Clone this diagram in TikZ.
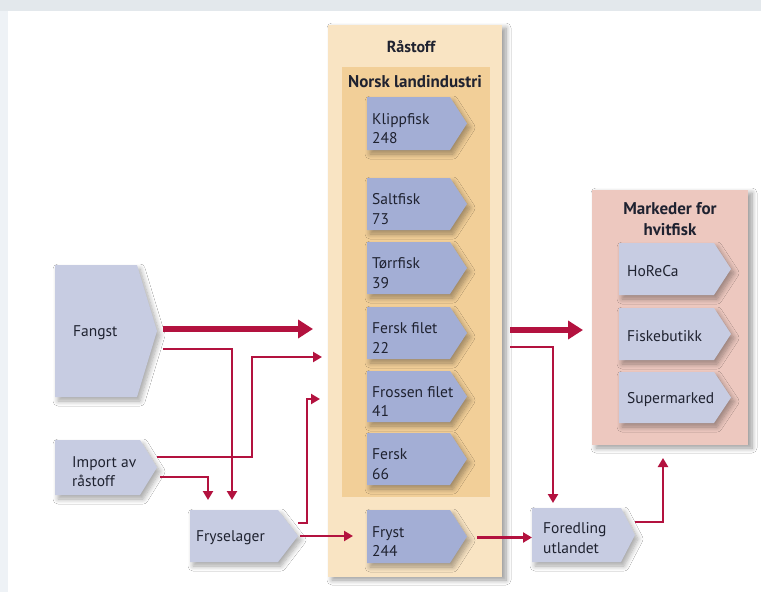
\documentclass[tikz,border=0pt]{standalone}
\usepackage{fontspec}
\setmainfont{PT Sans}
\usetikzlibrary{arrows.meta,calc,fit,shadows.blur}
\definecolor{frametop}{HTML}{E3E8EC}
\definecolor{frameleft}{HTML}{EEF2F6}
\definecolor{rawouter}{HTML}{F9E4C3}
\definecolor{rawinner}{HTML}{F2CF98}
\definecolor{darkbox}{HTML}{A3AED5}
\definecolor{lightbox}{HTML}{C7CCE2}
\definecolor{marketbg}{HTML}{EDC8BF}
\definecolor{flow}{HTML}{B3123F}
\definecolor{ink}{HTML}{1F2230}
\tikzset{
  boxshadow/.style={blur shadow={shadow xshift=3pt,shadow yshift=-4pt,shadow blur steps=8,shadow blur radius=5pt,shadow opacity=35}},
  panelshadow/.style={blur shadow={shadow xshift=4pt,shadow yshift=-3pt,shadow blur steps=8,shadow blur radius=5pt,shadow opacity=40}},
  boxtext/.style={text=ink,font=\fontsize{15.5}{19.5}\selectfont,align=left,inner sep=0pt},
  titletext/.style={text=ink,font=\fontsize{17}{22}\selectfont\bfseries,align=center,inner sep=0pt},
  frame/.style={inner sep=0pt,outer sep=0pt},
  thinarrow/.style={draw=flow,line width=2.5pt,-{Triangle[length=9pt,width=10pt]}},
  thickarrow/.style={draw=flow,line width=6pt,-{Triangle[length=15pt,width=18pt]}},
}
% name, left x, top y, rect right x, tip x, bottom y, colour, text offset (dx,dy), text
\newcommand\pentbox[9]{%
  \path[fill=#7,boxshadow] (#2,#3) -- (#4,#3) -- (#5,{(#3+#6)/2}) -- (#4,#6) -- (#2,#6) -- cycle;
  \node[frame,fit={(#2,#3) (#5,#6)}] (#1) {};
  \node[boxtext,anchor=west] (#1-t) at ($(#1.west)+(#8)$) {#9};
}
\begin{document}
\begin{tikzpicture}[x=1pt,y=-1pt]
\useasboundingbox (0,0) rectangle (761,592);
\fill[white] (0,0) rectangle (761,592);
\fill[frametop] (0,0) rectangle (761,11);
\fill[frameleft] (0,11) rectangle (8,592);

% Raastoff panel
\path[fill=rawouter,panelshadow] (328,25) rectangle (502,577);
\node[frame,fit={(328,25) (502,577)}] (raastoff) {};
\fill[rawinner] (342,67) rectangle (490,497);
\node[frame,fit={(342,67) (490,497)}] (norsk) {};
\node[titletext,font=\fontsize{16}{22}\selectfont\bfseries] (raastoff-t) at (411,47) {Råstoff};
\node[titletext] (norsk-t) at (415,82) {Norsk landindustri};

\pentbox{klippfisk}{367}{97}{450}{467}{150}{darkbox}{5,5}{Klippfisk\\248}
\pentbox{saltfisk}{367}{178}{450}{467}{230}{darkbox}{5,5}{Saltfisk\\73}
\pentbox{torrfisk}{367}{242}{450}{467}{294}{darkbox}{5,5}{Tørrfisk\\39}
\pentbox{ferskfilet}{367}{307}{450}{467}{359}{darkbox}{5,5}{Fersk filet\\22}
\pentbox{frossenfilet}{367}{371}{450}{467}{422}{darkbox}{5,5}{Frossen filet\\41}
\pentbox{fersk}{367}{433}{450}{467}{485}{darkbox}{5,5}{Fersk\\66}
\pentbox{fryst}{367}{510}{450}{467}{563}{darkbox}{5,5}{Fryst\\244}

% Markets panel
\path[fill=marketbg,panelshadow] (592,190) rectangle (748,445);
\node[frame,fit={(592,190) (748,445)}] (markets) {};
\node[titletext,font=\fontsize{17}{21}\selectfont\bfseries] (markets-t) at (670,219) {Markeder for\\hvitfisk};
\pentbox{horeca}{619}{243}{714}{731}{295}{lightbox}{8,2}{HoReCa}
\pentbox{fiskebutikk}{619}{308}{714}{731}{360}{lightbox}{8,2}{Fiskebutikk}
\pentbox{supermarked}{619}{372}{714}{731}{423}{lightbox}{8,2}{Supermarked}

% Left boxes
\pentbox{fangst}{55}{265}{137}{157}{397}{lightbox}{18,2}{Fangst}
\pentbox{import}{55}{440}{140}{157}{495}{lightbox}{17,4}{Import av\\råstoff}
\pentbox{fryselager}{190}{510}{278}{298}{562}{lightbox}{6,2}{Fryselager}
\pentbox{foredling}{532}{508}{621}{635}{562}{lightbox}{11,3}{Foredling\\utlandet}

% Connectors
\draw[thickarrow] ($(fangst.east)+(6,-2)$) coordinate (c1)
  -- ($(c1 -| raastoff.west)+(-15,0)$);
\draw[thinarrow] ($(fangst.east)+(6,18)$)
  -| ($(fryselager.north west)+(42,-10)$);
\draw[thinarrow] ($(import.east)+(0,-10.5)$) -- ++(95,0)
  |- ($(raastoff.west)+(-6,56)$);
\draw[thinarrow] ($(import.east)+(3,9.5)$)
  -| ($(fryselager.north west)+(18,-10)$);
\draw[thinarrow] ($(fryselager.east)+(0,-13)$) -- ++(9,0)
  |- ($(raastoff.west)+(-8,98)$);
\draw[thinarrow] ($(fryselager.east)+(2,0)$) coordinate (c6)
  -- ($(c6 -| fryst.west)+(-14,0)$);
\draw[thinarrow] ($(fryst.east)+(10,1)$) coordinate (c7)
  -- (c7 -| foredling.west);
\draw[thickarrow] ($(raastoff.east)+(8,29)$) coordinate (c8)
  -- ($(c8 -| markets.west)+(-9,0)$);
\draw[thinarrow] ($(raastoff.east)+(8,46)$)
  -| ($(foredling.north west)+(21,-5)$);
\draw[thinarrow] ($(foredling.east)+(0,-13)$)
  -| ($(markets.south west)+(71,13)$);
\end{tikzpicture}
\end{document}
